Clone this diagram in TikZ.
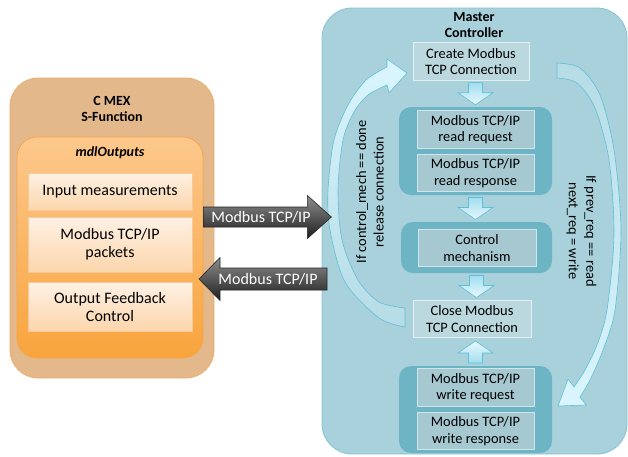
\documentclass[tikz,border=0pt]{standalone}
\usepackage{fontspec}
\setmainfont{Carlito}
\usetikzlibrary{calc}

\definecolor{tanfill}{HTML}{E3B88B}
\definecolor{tanline}{HTML}{EFAE6E}
\definecolor{orangetop}{HTML}{FDC88D}
\definecolor{orangebot}{HTML}{F8A43C}
\definecolor{orangeline}{HTML}{F6A54A}
\definecolor{celltop}{HTML}{FEF1E4}
\definecolor{cellbot}{HTML}{FCD6AC}
\definecolor{cellline}{HTML}{F7C99A}
\definecolor{masterfill}{HTML}{A9D1DB}
\definecolor{masterline}{HTML}{86C4D4}
\definecolor{groupfill}{HTML}{6DB4C4}
\definecolor{bluefill}{HTML}{A6C8D1}
\definecolor{blueline}{HTML}{CFE5EB}
\definecolor{connfill}{HTML}{BBD8DF}
\definecolor{connline}{HTML}{E2F0F3}
\definecolor{greytop}{HTML}{8E8E8E}
\definecolor{greybot}{HTML}{1E1E1E}
\definecolor{flowtop}{HTML}{A2DEF0}
\definecolor{flowbot}{HTML}{E8F8FC}
\definecolor{flowline}{HTML}{5EBFD6}
\definecolor{loopbright}{HTML}{DAF5FD}
\definecolor{loopdull}{HTML}{B6DCE6}

\begin{document}
\begin{tikzpicture}[x=1pt,y=-1pt,
    leftcell/.style={rectangle, top color=celltop, bottom color=cellbot, draw=cellline,
      line width=0.6pt, minimum width=164pt, inner sep=0pt, align=center,
      font=\fontsize{16}{18}\selectfont},
    bluecell/.style={rectangle, fill=bluefill, draw=blueline, line width=0.8pt,
      minimum width=117pt, minimum height=37.5pt, inner sep=0pt, align=center,
      font=\fontsize{14.4}{16.5}\selectfont},
    connbox/.style={bluecell, fill=connfill, draw=connline, minimum width=116pt},
    groupbox/.style={rectangle, rounded corners=12pt, fill=groupfill, minimum width=153pt},
    greyarrow/.style={top color=greytop, bottom color=greybot, draw=black!85, line width=0.6pt},
    greytext/.style={text=white, font=\fontsize{16}{18}\selectfont},
    flowarrow/.style={draw=flowline, line width=0.6pt},
    looparrow/.style={draw=flowline, line width=0.6pt},
    title/.style={font=\bfseries\fontsize{14}{16}\selectfont, align=center}]
  \useasboundingbox (0,0) rectangle (628,456);

  % C MEX side
  \node[rounded corners=28pt, fill=tanfill, draw=tanline, line width=0.8pt,
    minimum width=204pt, minimum height=300pt] (cmex) at (112,228) {};
  \node[title] (cmextitle) at (112,108.5) {C MEX\\S-Function};
  \node[rounded corners=20pt, top color=orangetop, bottom color=orangebot, draw=orangeline,
    line width=0.8pt, minimum width=186pt, minimum height=221pt] (mdl) at (110,247.5) {};
  \node[title, font=\bfseries\itshape\fontsize{14}{16}\selectfont] (mdltitle) at (110,153) {mdlOutputs};
  \node[leftcell, minimum height=37pt] (inp) at (110,191.5) {Input measurements};
  \node[leftcell, minimum height=55pt] (pkt) at (110,244.5) {Modbus TCP/IP\\packets};
  \node[leftcell, minimum height=49pt] (ofc) at (110,306.5) {Output Feedback\\Control};

  % master controller
  \node[rounded corners=30pt, fill=masterfill, draw=masterline, line width=0.8pt,
    minimum width=305pt, minimum height=446pt] (master) at (474.5,231) {};
  \node[title] (mastertitle) at (474,25) {Master\\Controller};

  \node[connbox] (create) at (471,61.5) {Create Modbus\\TCP Connection};
  \node[groupbox, minimum height=88pt] (readgrp) at (475.5,151) {};
  \node[bluecell] (readreq) at (475.5,129.5) {Modbus TCP/IP\\read request};
  \node[bluecell] (readresp) at (475.5,173) {Modbus TCP/IP\\read response};
  \node[groupbox, minimum width=151pt, minimum height=51pt] (ctrlgrp) at (476.5,247.5) {};
  \node[bluecell, minimum width=118pt] (ctrl) at (477,248) {Control\\mechanism};
  \node[connbox, minimum width=118pt] (close) at (472,319) {Close Modbus\\TCP Connection};
  \node[groupbox, minimum height=87pt] (writegrp) at (475.5,409.5) {};
  \node[bluecell] (writereq) at (475.5,387.5) {Modbus TCP/IP\\write request};
  \node[bluecell] (writeresp) at (475.5,431) {Modbus TCP/IP\\write response};

  \coordinate (flowa) at ($(readgrp.north)!.5!(readgrp.north |- create.south)$);
  \coordinate (flowb) at ($(readgrp.south)!.5!(readgrp.south |- ctrlgrp.north)$);
  \coordinate (flowc) at ($(ctrlgrp.south)!.5!(ctrlgrp.south |- close.north)$);
  \coordinate (flowd) at ($(writegrp.north)!.5!(writegrp.north |- close.south)$);
  \foreach \f in {flowa,flowb,flowc}
    \draw[flowarrow, top color=flowtop, bottom color=flowbot, shift={(\f)}]
      (-7,-11) -- (7,-11) -- (7,-1) -- (17.5,-1) -- (0,11) -- (-17.5,-1) -- (-7,-1) -- cycle;
  \draw[flowarrow, top color=flowbot, bottom color=flowtop, shift={(flowd)}, yscale=-1]
    (-7,-11) -- (7,-11) -- (7,-1) -- (17.5,-1) -- (0,11) -- (-17.5,-1) -- (-7,-1) -- cycle;

  % loop arrows
  \path[looparrow, top color=loopbright, bottom color=loopdull]
    plot[smooth] coordinates {(405,327) (379,318) (345,282) (330,230) (328,190) (334,140) (348,105) (366,80) (387,67)}
    -- (387,59) -- (407,73) -- (389,93) -- (387,85)
    -- plot[smooth] coordinates {(387,85) (368,95) (354,112) (343,140) (338,190) (342,240) (358,280) (379,302) (405,308)}
    -- cycle;
  \path[looparrow, top color=loopdull, bottom color=loopbright]
    plot[smooth] coordinates {(557,63) (580,68) (600,95) (614,150) (621,230) (615,310) (603,350) (590,380) (580,397)}
    -- (586,405) -- (558,406) -- (568,379) -- (574,387)
    -- plot[smooth] coordinates {(574,387) (585,370) (597,345) (607,310) (614,235) (609,160) (595,108) (577,83) (557,78)}
    -- cycle;
  \node[rotate=90, align=center, font=\fontsize{14.4}{17.5}\selectfont] (donetxt) at (370,192)
    {If control\_mech == done\\release connection};
  \node[rotate=-90, align=center, font=\fontsize{14.4}{17.5}\selectfont] (reqtxt) at (581.5,231)
    {If prev\_req == read\\next\_req = write};

  % Modbus links
  \coordinate (mbout) at (mdl.east |- 0,217);
  \coordinate (mbin) at (327,279);
  \draw[greyarrow, shift={(mbout)}]
    (0,-10) -- (104,-10) -- (104,-21.5) -- (128,0) -- (104,21.5) -- (104,10) -- (0,10) -- cycle;
  \node[greytext] (mbouttxt) at (261,217) {Modbus TCP/IP};
  \draw[greyarrow, shift={(mbin)}, xscale=-1]
    (0,-11) -- (107,-11) -- (107,-21.5) -- (128,0) -- (107,21.5) -- (107,11) -- (0,11) -- cycle;
  \node[greytext] (mbintxt) at (268,279) {Modbus TCP/IP};
\end{tikzpicture}
\end{document}
